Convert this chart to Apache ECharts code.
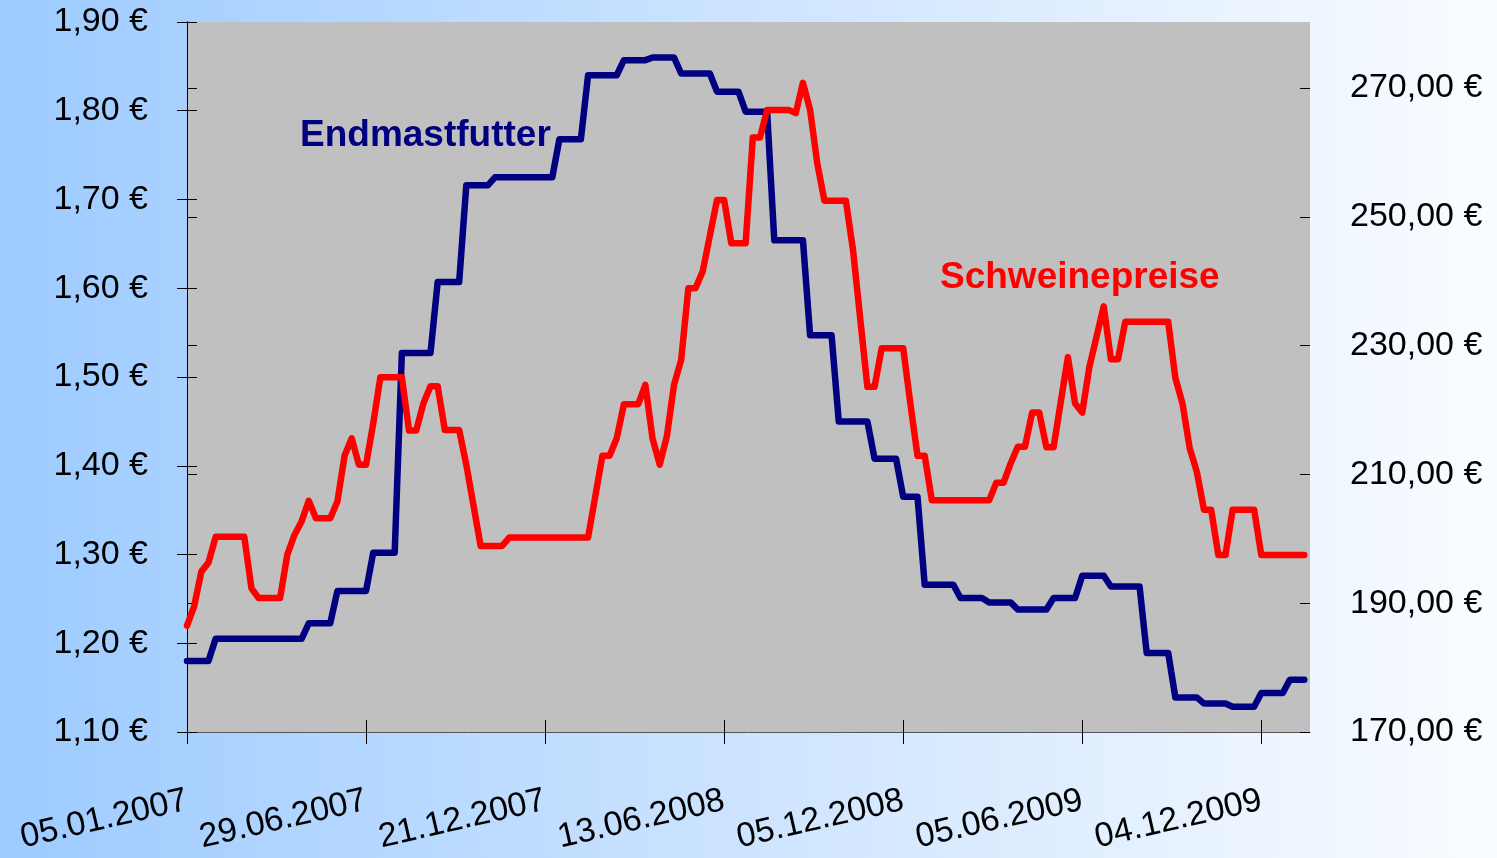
<!DOCTYPE html>
<html>
<head>
<meta charset="utf-8">
<script src="https://cdn.jsdelivr.net/npm/echarts@6/dist/echarts.min.js"></script>
<style>
html, body { margin: 0; padding: 0; background: #fff; }
#main { width: 1497px; height: 858px; }
</style>
</head>
<body>
<div id="main"></div>
<script>
// Endmastfutter (linke Achse), Knickpunkte: Woche seit 05.01.2007 / Preis
var futterWeeks = [0, 3, 4, 16, 17, 20, 21, 25, 26, 29, 30, 34, 35, 38, 39, 42, 43, 51, 52, 55,
	56, 60, 61, 64, 65, 68, 69, 73, 74, 77, 78, 81, 82, 86, 87, 90, 91, 95, 96, 99,
	100, 102, 103, 107, 108, 111, 112, 115, 116, 120, 121, 124, 125, 128, 129, 133, 134, 137, 138, 141,
	142, 145, 146, 149, 150, 153, 154, 156];
var futterPrices = [1.18, 1.18, 1.205, 1.205, 1.2225, 1.2225, 1.259, 1.259, 1.302, 1.302, 1.527, 1.527, 1.607, 1.607, 1.716, 1.716, 1.725, 1.725, 1.768, 1.768,
	1.84, 1.84, 1.857, 1.857, 1.86, 1.86, 1.842, 1.842, 1.8215, 1.8215, 1.799, 1.799, 1.654, 1.654, 1.547, 1.547, 1.45, 1.45, 1.408, 1.408,
	1.365, 1.365, 1.266, 1.266, 1.251, 1.251, 1.246, 1.246, 1.238, 1.238, 1.251, 1.251, 1.276, 1.276, 1.264, 1.264, 1.189, 1.189, 1.139, 1.139,
	1.132, 1.132, 1.1285, 1.1285, 1.144, 1.144, 1.159, 1.159];

// Schweinepreise (rechte Achse)
var schweinWeeks = [0, 1, 2, 3, 4, 8, 9, 10, 13, 14, 15, 16, 17, 18, 20, 21, 22, 23, 24, 25,
	26, 27, 30, 31, 32, 33, 34, 35, 36, 38, 39, 41, 44, 45, 56, 58, 59, 60, 61, 63,
	64, 65, 66, 67, 68, 69, 70, 71, 72, 74, 75, 76, 78, 79, 80, 81, 84, 85, 86, 87,
	88, 89, 92, 93, 95, 96, 97, 100, 101, 102, 103, 104, 112, 113, 114, 115, 116, 117, 118, 119,
	120, 121, 122, 123, 124, 125, 126, 128, 129, 130, 131, 137, 138, 139, 140, 141, 142, 143, 144, 145,
	146, 149, 150, 156];
var schweinPrices = [186.5, 189.5, 194.9, 196.3, 200.3, 200.3, 192.3, 190.8, 190.8, 197.5, 200.6, 202.7, 205.9, 203.2, 203.2, 205.8, 212.9, 215.6, 211.5, 211.5,
	217.9, 225.1, 225.1, 216.8, 216.8, 221.0, 223.7, 223.7, 216.9, 216.9, 211.5, 198.9, 198.9, 200.2, 200.2, 212.9, 212.9, 215.6, 220.9, 220.9,
	223.9, 215.6, 211.5, 215.9, 223.9, 227.8, 238.9, 238.9, 241.5, 252.6, 252.6, 245.9, 245.9, 262.3, 262.3, 266.6, 266.6, 266.1, 270.8, 266.6,
	258.3, 252.5, 252.5, 244.8, 223.6, 223.6, 229.6, 229.6, 221.0, 212.9, 212.9, 206.0, 206.0, 208.7, 208.7, 211.7, 214.3, 214.3, 219.6, 219.6,
	214.2, 214.2, 221.3, 228.2, 221.0, 219.6, 226.7, 236.1, 227.9, 227.9, 233.7, 233.7, 225.0, 221.0, 214.1, 210.4, 204.5, 204.5, 197.5, 197.5,
	204.5, 204.5, 197.5, 197.5];

// Achsenbeschriftungen
var dateLabels = ['05.01.2007', '29.06.2007', '21.12.2007', '13.06.2008', '05.12.2008', '05.06.2009', '04.12.2009'];
var dateWeeks = [0, 25, 50, 75, 100, 125, 150];
var leftTicks = [1.1, 1.2, 1.3, 1.4, 1.5, 1.6, 1.7, 1.8, 1.9];
var rightTicks = [170, 190, 210, 230, 250, 270];

function pairs(xs, ys) {
	var out = [];
	for (var i = 0; i < xs.length; i++) out.push([xs[i], ys[i]]);
	return out;
}

function euro(v) {
	return v.toFixed(2).replace('.', ',') + ' €';
}

var labelFont = "'Liberation Sans', Arial, sans-serif";

var myChart = echarts.init(document.getElementById('main'));

var option = {
	backgroundColor: {
		type: 'linear', x: 0, y: 0, x2: 1, y2: 0,
		colorStops: [
			{ offset: 0, color: '#9dcbff' },
			{ offset: 0.5, color: '#cde4ff' },
			{ offset: 1, color: '#fafcff' }
		]
	},
	animation: false,
	grid: {
		left: 187, right: 187, top: 22, bottom: 126,
		show: true, backgroundColor: '#c0c0c0', borderWidth: 0
	},
	xAxis: [{
		type: 'value', min: 0, max: 156.8, position: 'bottom',
		axisLine: { show: true, lineStyle: { color: '#555', width: 1 } },
		axisTick: { show: true, length: 12, customValues: dateWeeks, lineStyle: { color: '#000' } },
		axisLabel: {
			customValues: dateWeeks,
			formatter: function (v) { return dateLabels[Math.round(v / 25)]; },
			rotate: 13, margin: 68, hideOverlap: false,
			showMinLabel: true, showMaxLabel: true,
			fontFamily: labelFont, fontSize: 34, color: '#000'
		},
		splitLine: { show: false }
	}, {
		type: 'value', min: 0, max: 156.8, position: 'bottom',
		axisLine: { show: false },
		axisTick: { show: true, inside: true, length: 12, customValues: dateWeeks, lineStyle: { color: '#000' } },
		axisLabel: { show: false },
		splitLine: { show: false }
	}],
	yAxis: [{
		type: 'value', position: 'left', min: 1.1, max: 1.9,
		axisLine: { show: true, lineStyle: { color: '#000' } },
		axisTick: { show: true, length: 10, customValues: leftTicks, lineStyle: { color: '#000' } },
		axisLabel: { customValues: leftTicks, formatter: euro, margin: 39, fontFamily: labelFont, fontSize: 34, color: '#000' },
		splitLine: { show: false }
	}, {
		type: 'value', position: 'right', min: 170, max: 280.25,
		axisLine: { show: true, lineStyle: { color: '#000' } },
		axisTick: { show: true, length: 10, customValues: rightTicks, lineStyle: { color: '#000' } },
		axisLabel: { customValues: rightTicks, formatter: euro, margin: 40, fontFamily: labelFont, fontSize: 34, color: '#000' },
		splitLine: { show: false }
	}, {
		type: 'value', position: 'left', min: 1.1, max: 1.9,
		axisLine: { show: false },
		axisTick: { show: true, inside: true, length: 10, customValues: leftTicks, lineStyle: { color: '#000' } },
		axisLabel: { show: false },
		splitLine: { show: false }
	}, {
		type: 'value', position: 'right', min: 170, max: 280.25,
		axisLine: { show: false },
		axisTick: { show: true, inside: true, length: 10, customValues: rightTicks, lineStyle: { color: '#000' } },
		axisLabel: { show: false },
		splitLine: { show: false }
	}],
	graphic: [{
		type: 'text', left: 300, top: 117,
		style: { text: 'Endmastfutter', fill: '#000080', font: "bold 37px 'Liberation Sans', Arial, sans-serif" }
	}, {
		type: 'text', left: 940, top: 259,
		style: { text: 'Schweinepreise', fill: '#ff0000', font: "bold 37px 'Liberation Sans', Arial, sans-serif" }
	}],
	series: [{
		name: 'Endmastfutter',
		type: 'line',
		xAxisIndex: 0, yAxisIndex: 0,
		showSymbol: false,
		data: pairs(futterWeeks, futterPrices),
		lineStyle: { color: '#000080', width: 6.5, cap: 'round', join: 'round' },
		itemStyle: { color: '#000080' }
	}, {
		name: 'Schweinepreise',
		type: 'line',
		xAxisIndex: 0, yAxisIndex: 1,
		showSymbol: false,
		data: pairs(schweinWeeks, schweinPrices),
		lineStyle: { color: '#ff0000', width: 6.5, cap: 'round', join: 'round' },
		itemStyle: { color: '#ff0000' }
	}]
};

myChart.setOption(option);
</script>
</body>
</html>
